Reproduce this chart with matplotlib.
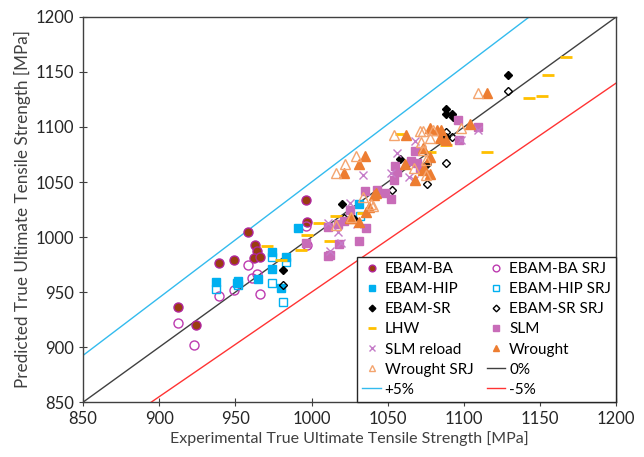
import numpy as np
import matplotlib
matplotlib.use('Agg')
import matplotlib.pyplot as plt

plt.rcParams['font.family'] = ['Lato', 'DejaVu Sans']

# true (experimental) vs predicted UTS [MPa]
ba_x = [912, 924, 939, 949, 958, 963, 964, 962, 966, 996, 997]
ba_y = [936, 920, 976, 979, 1005, 993, 987, 981, 982, 1034, 1014]
ba_srj_x = [912, 923, 939, 949, 958, 961, 964, 966, 996, 997]
ba_srj_y = [922, 902, 946, 952, 975, 963, 966, 948, 1010, 993]
hip_x = [937, 951, 952, 965, 974, 974, 983, 980, 991, 1031]
hip_y = [959, 958, 960, 962, 971, 986, 982, 954, 1008, 1030]
hip_srj_x = [937, 952, 974, 983, 974, 981, 1032]
hip_srj_y = [953, 956, 982, 977, 958, 941, 1019]
sr_x = [981, 1020, 1028, 1058, 1076, 1088, 1088, 1092, 1093, 1088, 1129]
sr_y = [970, 1030, 1016, 1071, 1066, 1116, 1112, 1112, 1109, 1091, 1147]
sr_srj_x = [981, 1021, 1053, 1076, 1088, 1088, 1092, 1129]
sr_srj_y = [956, 1017, 1043, 1048, 1067, 1095, 1091, 1133]
lhw_x = [971, 980, 993, 997, 1005, 1012, 1016, 1034, 1059, 1078, 1088, 1115, 1143, 1151, 1155, 1167]
lhw_y = [992, 979, 988, 1002, 1013, 996, 1019, 1022, 1094, 1077, 1084, 1077, 1126, 1128, 1147, 1164]
slm_x = [996, 1011, 1011, 1017, 1021, 1018, 1012, 1031, 1036, 1025, 1035, 1043, 1048,
         1052, 1054, 1056, 1065, 1069, 1068, 1071, 1055, 1096, 1097, 1109]
slm_y = [995, 1009, 983, 1012, 1015, 994, 984, 996, 1008, 1025, 1042, 1043, 1040,
         1035, 1052, 1059, 1069, 1067, 1078, 1063, 1065, 1106, 1088, 1100]
reload_x = [1012, 1011, 1017, 1019, 1025, 1030, 1034, 1052, 1056, 1064, 1067, 1068, 1098, 1109]
reload_y = [987, 1013, 1005, 995, 1031, 1012, 1056, 1058, 1076, 1055, 1052, 1087, 1088, 1097]
wr_x = [1021, 1025, 1026, 1031, 1031, 1035, 1036, 1038, 1041, 1042, 1061, 1062, 1068,
        1073, 1073, 1074, 1078, 1078, 1078, 1082, 1084, 1085, 1088, 1104, 1115]
wr_y = [1058, 1017, 1017, 1066, 1014, 1074, 1023, 1027, 1038, 1040, 1066, 1093, 1052,
        1061, 1081, 1063, 1073, 1057, 1099, 1097, 1090, 1097, 1088, 1103, 1131]
wr_srj_x = [1016, 1016, 1022, 1026, 1029, 1034, 1039, 1040, 1054, 1067, 1071, 1072,
            1073, 1073, 1075, 1075, 1078, 1080, 1098, 1109]
wr_srj_y = [1058, 1011, 1066, 1018, 1074, 1036, 1030, 1028, 1093, 1063, 1096, 1086,
            1079, 1096, 1070, 1056, 1090, 1097, 1099, 1131]

ref_x = [850, 1200]
bands = [0.0, 0.05, -0.05]

fig = plt.figure(figsize=(6.44, 4.57), dpi=100)
ax = fig.add_axes([0.129, 0.12, 0.828, 0.843])

h = {}
h['EBAM-BA'], = ax.plot(ba_x, ba_y, ls='none', marker='o', ms=6.5, mfc='#9a3d10', mec='#b0259c', mew=1.0)
h['EBAM-BA SRJ'], = ax.plot(ba_srj_x, ba_srj_y, ls='none', marker='o', ms=6.5, mfc='none', mec='#bd3bb0', mew=1.0)
h['EBAM-HIP'], = ax.plot(hip_x, hip_y, ls='none', marker='s', ms=6, mfc='#00b0f0', mec='#00b0f0')
h['EBAM-HIP SRJ'], = ax.plot(hip_srj_x, hip_srj_y, ls='none', marker='s', ms=6, mfc='none', mec='#00b0f0', mew=1.0)
h['EBAM-SR'], = ax.plot(sr_x, sr_y, ls='none', marker='D', ms=4.5, mfc='black', mec='black')
h['EBAM-SR SRJ'], = ax.plot(sr_srj_x, sr_srj_y, ls='none', marker='D', ms=4.5, mfc='none', mec='black', mew=1.0)
h['LHW'], = ax.plot(lhw_x, lhw_y, ls='none', marker='_', ms=8, mec='#ffc000', mew=2)
h['SLM'], = ax.plot(slm_x, slm_y, ls='none', marker='s', ms=6, mfc='#c86cb8', mec='#c86cb8')
h['SLM reload'], = ax.plot(reload_x, reload_y, ls='none', marker='x', ms=6, mec='#c57cc8', mew=1.0)
h['Wrought'], = ax.plot(wr_x, wr_y, ls='none', marker='^', ms=6.5, mfc='#ed7d31', mec='#ed7d31')
h['Wrought SRJ'], = ax.plot(wr_srj_x, wr_srj_y, ls='none', marker='^', ms=6.5, mfc='none', mec='#f4a46e', mew=1.0)

line_cols = {0.0: '#404040', 0.05: '#33bbee', -0.05: '#ff3333'}
line_names = {0.0: '0%', 0.05: '+5%', -0.05: '-5%'}
for b in bands:
    h[line_names[b]], = ax.plot(ref_x, np.array(ref_x) * (1 + b), color=line_cols[b], lw=1.0, zorder=1)

ax.set_xlim(850, 1200)
ax.set_ylim(850, 1200)
ax.set_xticks(np.arange(850, 1201, 50))
ax.set_yticks(np.arange(850, 1201, 50))
ax.tick_params(direction='inout', length=6, labelsize=12, colors='#404040', labelcolor='#262626')
for s in ax.spines.values():
    s.set_color('#404040')
    s.set_linewidth(1.0)

ax.set_xlabel('Experimental True Ultimate Tensile Strength [MPa]', fontsize=11.5, color='#404040', labelpad=3)
ax.set_ylabel('Predicted True Ultimate Tensile Strength [MPa]', fontsize=12.3, color='#404040', labelpad=3)

# column-major order so the rows read pairwise like the original
order = ['EBAM-BA', 'EBAM-HIP', 'EBAM-SR', 'LHW', 'SLM reload', 'Wrought SRJ', '+5%',
         'EBAM-BA SRJ', 'EBAM-HIP SRJ', 'EBAM-SR SRJ', 'SLM', 'Wrought', '0%', '-5%']
leg = ax.legend([h[k] for k in order], order, ncol=2, loc='lower right', borderaxespad=0,
                fontsize=11, handlelength=1.2, handletextpad=0.25, columnspacing=0.9,
                labelspacing=0.4, fancybox=False, framealpha=1, edgecolor='#262626',
                markerscale=0.75, borderpad=0.35)
leg.get_frame().set_linewidth(1.0)

fig.savefig('out.png', dpi=100)
